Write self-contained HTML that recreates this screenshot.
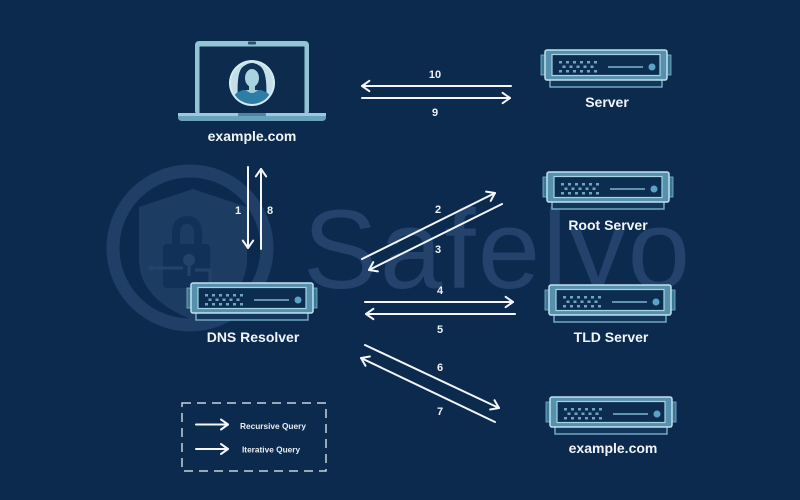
<!DOCTYPE html>
<html><head><meta charset="utf-8"><style>
html,body{margin:0;padding:0;background:#0b2a4e;}
svg{display:block;}
.lbl{font-family:"Liberation Sans",sans-serif;font-weight:bold;fill:#f2f5f8;text-anchor:middle;}
.num{font-family:"Liberation Sans",sans-serif;font-weight:bold;fill:#eef2f6;text-anchor:middle;font-size:11px;}
.ar{stroke:#f4f6f9;stroke-width:2;fill:none;stroke-linecap:round;stroke-linejoin:round;}
</style></head><body>
<svg width="800" height="500" viewBox="0 0 800 500" xmlns="http://www.w3.org/2000/svg">
<defs>
<g id="srv">
 <rect x="-4" y="5" width="6" height="20" fill="#3c7796" stroke="#7fb4ca" stroke-width="0.8"/>
 <rect x="120" y="5" width="6" height="20" fill="#3c7796" stroke="#7fb4ca" stroke-width="0.8"/>
 <rect x="5" y="29" width="112" height="8" fill="#12375b" stroke="#7ab1c8" stroke-width="1.4"/>
 <rect x="0" y="0" width="122" height="30" rx="2" fill="#5790ad" stroke="#bfe2ee" stroke-width="1.5"/>
 <rect x="7" y="4.5" width="108" height="21" fill="#0d2d50" stroke="#a6d4e4" stroke-width="1.2"/>
 <g fill="#6fa5bf">
  <rect x="14" y="11" width="3" height="2.5"/><rect x="21" y="11" width="3" height="2.5"/><rect x="28" y="11" width="3" height="2.5"/><rect x="35" y="11" width="3" height="2.5"/><rect x="42" y="11" width="3" height="2.5"/><rect x="49" y="11" width="3" height="2.5"/>
  <rect x="17.5" y="15.5" width="3" height="2.5"/><rect x="24.5" y="15.5" width="3" height="2.5"/><rect x="31.5" y="15.5" width="3" height="2.5"/><rect x="38.5" y="15.5" width="3" height="2.5"/><rect x="45.5" y="15.5" width="3" height="2.5"/>
  <rect x="14" y="20" width="3" height="2.5"/><rect x="21" y="20" width="3" height="2.5"/><rect x="28" y="20" width="3" height="2.5"/><rect x="35" y="20" width="3" height="2.5"/><rect x="42" y="20" width="3" height="2.5"/><rect x="49" y="20" width="3" height="2.5"/>
 </g>
 <line x1="63" y1="17" x2="98" y2="17" stroke="#7bb6cf" stroke-width="1.5"/>
 <circle cx="107" cy="17" r="3.5" fill="#5aa3c6"/>
</g>
<clipPath id="av"><circle cx="252" cy="83" r="21"/></clipPath>
</defs>

<rect width="800" height="500" fill="#0b2a4e"/>

<!-- watermark -->
<circle cx="190" cy="248" r="77" fill="none" stroke="#203f66" stroke-width="13"/>
<path d="M193 189 L247 207 L247 262 Q245 300 193 320 Q141 300 139 262 L139 207 Z" fill="#1d3c62"/>
<path d="M176 245 L176 234 Q176 220 187 220 Q198 220 198 234 L198 245" fill="none" stroke="#123159" stroke-width="8"/>
<rect x="163" y="244" width="47" height="44" rx="4" fill="#123159"/>
<circle cx="189" cy="260" r="6" fill="#23436c"/>
<line x1="189" y1="262" x2="189" y2="276" stroke="#23436c" stroke-width="3"/>
<polyline points="183,268 152,268" stroke="#23436c" stroke-width="3" fill="none"/>
<circle cx="151" cy="268" r="3" fill="#23436c"/>
<polyline points="195,270 210,270 210,282" stroke="#23436c" stroke-width="3" fill="none"/>
<text x="303" y="288" font-family="Liberation Sans, sans-serif" font-size="112" textLength="387" fill="#23436c">Safelyo</text>

<!-- laptop -->
<rect x="195" y="41" width="114" height="74" rx="4" fill="#93c4d6"/>
<rect x="199.5" y="46.5" width="105" height="67" fill="#0c2b4d"/>
<rect x="248" y="41.5" width="8" height="3" rx="1" fill="#27506f"/>
<rect x="178" y="113" width="148" height="8" rx="3.5" fill="#6aa2bb"/>
<rect x="178" y="113" width="148" height="3" fill="#9acadb"/>
<rect x="238" y="113" width="28" height="3" rx="1" fill="#4b86a5"/>
<circle cx="252" cy="83" r="23" fill="#d6ebf1"/>
<circle cx="252" cy="83" r="21" fill="#c3dfe8"/>
<g clip-path="url(#av)">
 <path d="M238 100 Q236 70 244 66 Q252 60 260 66 Q268 72 266 100 Z" fill="#0f3256"/>
 <rect x="249" y="84" width="6" height="8" fill="#a5d0db"/>
 <ellipse cx="252" cy="78" rx="7" ry="9" fill="#a9d3dd"/>
 <path d="M230 106 Q232 92 244 90 L260 90 Q272 92 274 106 Z" fill="#2c7ea6"/>
 <path d="M246 90 Q252 96 258 90" fill="#a5d0db"/>
</g>
<text class="lbl" x="252" y="141" font-size="14">example.com</text>

<!-- servers -->
<use href="#srv" x="545" y="50"/>
<text class="lbl" x="607" y="107" font-size="14">Server</text>
<use href="#srv" x="547" y="172"/>
<text class="lbl" x="608" y="230" font-size="14">Root Server</text>
<use href="#srv" x="191" y="283"/>
<text class="lbl" x="253" y="342" font-size="14">DNS Resolver</text>
<use href="#srv" x="549" y="285"/>
<text class="lbl" x="611" y="342" font-size="14">TLD Server</text>
<use href="#srv" x="550" y="397"/>
<text class="lbl" x="613" y="453" font-size="14">example.com</text>

<!-- arrows 10 / 9 -->
<line class="ar" x1="362" y1="86" x2="511" y2="86"/>
<polyline class="ar" points="369.4,80.8 362,86 369.4,91.2"/>
<line class="ar" x1="362" y1="98" x2="510" y2="98"/>
<polyline class="ar" points="502.6,92.8 510,98 502.6,103.2"/>
<text class="num" x="435" y="78">10</text>
<text class="num" x="435" y="116">9</text>

<!-- 1 / 8 -->
<line class="ar" x1="248" y1="167" x2="248" y2="248"/>
<polyline class="ar" points="242.8,240.6 248,248 253.2,240.6"/>
<line class="ar" x1="261" y1="169" x2="261" y2="249"/>
<polyline class="ar" points="255.8,176.4 261,169 266.2,176.4"/>
<text class="num" x="238" y="214">1</text>
<text class="num" x="270" y="214">8</text>

<!-- 2 / 3 -->
<line class="ar" x1="362" y1="259" x2="495" y2="193"/>
<polyline class="ar" points="486.1,191.6 495,193 490.7,200.9"/>
<line class="ar" x1="502" y1="204" x2="369" y2="270"/>
<polyline class="ar" points="377.9,271.4 369,270 373.3,262.1"/>
<text class="num" x="438" y="213">2</text>
<text class="num" x="438" y="253">3</text>

<!-- 4 / 5 -->
<line class="ar" x1="365" y1="302" x2="513" y2="302"/>
<polyline class="ar" points="505.6,296.8 513,302 505.6,307.2"/>
<line class="ar" x1="515" y1="314" x2="366" y2="314"/>
<polyline class="ar" points="373.4,308.8 366,314 373.4,319.2"/>
<text class="num" x="440" y="294">4</text>
<text class="num" x="440" y="333">5</text>

<!-- 6 / 7 -->
<line class="ar" x1="365" y1="345" x2="499" y2="408"/>
<polyline class="ar" points="494.5,400.2 499,408 490.1,409.5"/>
<line class="ar" x1="495" y1="422" x2="361" y2="358"/>
<polyline class="ar" points="365.5,365.8 361,358 369.9,356.5"/>
<text class="num" x="440" y="371">6</text>
<text class="num" x="440" y="415">7</text>

<!-- legend -->
<rect x="182" y="403" width="144" height="68" fill="none" stroke="#c6d2de" stroke-width="1.5" stroke-dasharray="9 6"/>
<line class="ar" x1="196" y1="424.5" x2="228" y2="424.5" stroke-width="1.8"/>
<polyline class="ar" stroke-width="1.8" points="221,419.5 228,424.5 221,429.5"/>
<line class="ar" x1="196" y1="449" x2="228" y2="449" stroke-width="1.8"/>
<polyline class="ar" stroke-width="1.8" points="221,444 228,449 221,454"/>
<text x="240" y="429" font-family="Liberation Sans, sans-serif" font-weight="bold" font-size="8.3" fill="#e8edf2">Recursive Query</text>
<text x="242" y="452.5" font-family="Liberation Sans, sans-serif" font-weight="bold" font-size="8.3" fill="#e8edf2">Iterative Query</text>
</svg>
</body></html>
